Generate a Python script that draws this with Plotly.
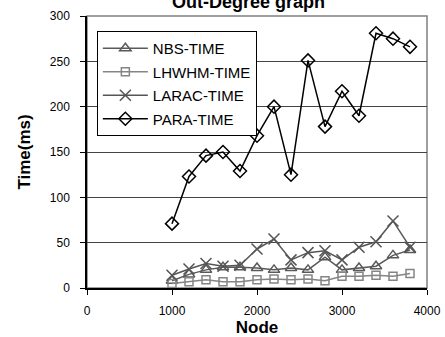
import plotly.graph_objects as go

nodes = [1000, 1200, 1400, 1600, 1800, 2000, 2200, 2400, 2600, 2800, 3000, 3200, 3400, 3600, 3800]
nbs_time = [8, 15, 20, 23, 23, 22, 20, 22, 20, 34, 20, 22, 24, 36, 42]
lhwhm_time = [5, 7, 9, 7, 7, 9, 10, 9, 10, 8, 13, 13, 14, 13, 16]
larac_time = [14, 21, 27, 24, 25, 43, 54, 31, 39, 41, 31, 45, 51, 74, 45]
para_time = [71, 123, 146, 150, 129, 168, 200, 125, 251, 178, 217, 190, 281, 275, 266]

series = [
    ("NBS-TIME", nbs_time, "#5a5a5a", "triangle-up-open", 10),
    ("LHWHM-TIME", lhwhm_time, "#858585", "square-open", 8),
    ("LARAC-TIME", larac_time, "#555555", "x-thin-open", 11),
    ("PARA-TIME", para_time, "#000000", "diamond-open", 10),
]

fig = go.Figure()
for i, (name, vals, color, sym, size) in enumerate(series):
    fig.add_trace(go.Scatter(
        x=nodes, y=vals, name=name, mode="lines+markers",
        line=dict(color=color, width=1.5),
        marker=dict(symbol=sym, size=size, color=color,
                    line=dict(color=color, width=1.5)),
        legendgroup=name,
    ))

font = "Arial, Liberation Sans, sans-serif"
fig.update_layout(
    width=445, height=337,
    margin=dict(l=87, r=18, t=16, b=49),
    paper_bgcolor="white", plot_bgcolor="white",
    font=dict(family=font, color="black", size=12),
    showlegend=True,
    legend=dict(
        x=0.029, y=0.945, xanchor="left", yanchor="top",
        bgcolor="white", bordercolor="black", borderwidth=1,
        font=dict(family=font, size=15, color="black"),
        itemwidth=45, tracegroupgap=1,
    ),
    xaxis=dict(
        range=[0, 4000], tickvals=[0, 1000, 2000, 3000, 4000],
        showgrid=False, zeroline=False, automargin=False,
        showline=True, linecolor="black", linewidth=1.5,
        ticks="outside", ticklen=5, tickcolor="black",
        tickfont=dict(size=12), ticklabelstandoff=6,
        title=dict(text="<b>Node</b>", font=dict(size=17), standoff=12),
    ),
    yaxis=dict(
        range=[0, 300], tickvals=[0, 50, 100, 150, 200, 250, 300],
        showgrid=True, gridcolor="#444444", gridwidth=1,
        zeroline=False, automargin=False,
        showline=True, linecolor="black", linewidth=1.5,
        ticks="outside", ticklen=5, tickcolor="black",
        tickfont=dict(size=12), ticklabelstandoff=8,
        title=dict(text="<b>Time(ms)</b>", font=dict(size=17), standoff=15),
    ),
    shapes=[dict(type="rect", xref="paper", yref="paper", x0=0, x1=1, y0=0, y1=1,
                 line=dict(color="#808080", width=1.5), layer="below")],
    annotations=[dict(text="<b>Out-Degree graph</b>", xref="paper", yref="paper",
                      x=(248 - 87) / 340, y=1 + (16 - 2) / 272,
                      xanchor="center", yanchor="middle", showarrow=False,
                      font=dict(family=font, size=18, color="black"))],
)

fig.write_html("out.html", config={"displayModeBar": False},
               post_script="document.body.style.margin='0';")
